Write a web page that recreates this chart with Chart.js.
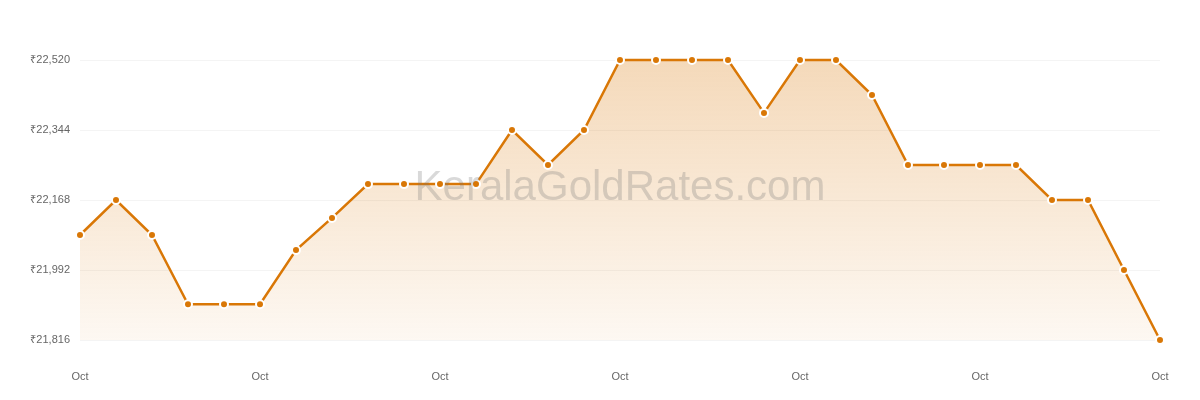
<!DOCTYPE html>
<html>
<head>
<meta charset="utf-8">
<script src="https://cdn.jsdelivr.net/npm/chart.js@4"></script>
<style>
  html, body { margin: 0; padding: 0; background: #fff; }
  #wrap { width: 1200px; height: 400px; }
</style>
</head>
<body>
<div id="wrap"><canvas id="myChart"></canvas></div>
<script>
// one point per day, all in October
const labels = ['Oct','Oct','Oct','Oct','Oct','Oct','Oct','Oct','Oct','Oct',
                'Oct','Oct','Oct','Oct','Oct','Oct','Oct','Oct','Oct','Oct',
                'Oct','Oct','Oct','Oct','Oct','Oct','Oct','Oct','Oct','Oct','Oct'];
const prices = [22080, 22168, 22080, 21906, 21906, 21906, 22042, 22123, 22208, 22208,
                22208, 22208, 22344, 22256, 22344, 22520, 22520, 22520, 22520, 22387,
                22520, 22520, 22432, 22256, 22256, 22256, 22256, 22168, 22168, 21992, 21816];
const yTicks = [21816, 21992, 22168, 22344, 22520];

const lineColor = '#d97706';

// watermark over the plot
const watermark = {
    id: 'watermark',
    afterDatasetsDraw(chart) {
        const ctx = chart.ctx;
        const area = chart.chartArea;
        ctx.save();
        ctx.font = '42px "Liberation Sans", Arial, sans-serif';
        ctx.fillStyle = 'rgba(120, 120, 120, 0.28)';
        ctx.textAlign = 'center';
        ctx.textBaseline = 'alphabetic';
        ctx.fillText('KeralaGoldRates.com', (area.left + area.right) / 2, 200);
        ctx.restore();
    }
};

const ctx = document.getElementById('myChart').getContext('2d');
const myChart = new Chart(ctx, {
    type: 'line',
    data: {
        labels: labels,
        datasets: [{
            data: prices,
            borderColor: lineColor,
            borderWidth: 2.5,
            tension: 0,
            fill: true,
            backgroundColor: function(context) {
                const area = context.chart.chartArea;
                if (!area) return 'rgba(217,119,6,0.15)';
                const g = context.chart.ctx.createLinearGradient(0, area.top, 0, area.bottom);
                g.addColorStop(0, 'rgba(217, 119, 6, 0.28)');
                g.addColorStop(1, 'rgba(217, 119, 6, 0.05)');
                return g;
            },
            pointRadius: 4,
            pointBackgroundColor: lineColor,
            pointBorderColor: '#ffffff',
            pointBorderWidth: 2,
            clip: 8
        }]
    },
    options: {
        responsive: true,
        maintainAspectRatio: false,
        animation: false,
        layout: { padding: { top: 60, right: 40, bottom: 17, left: 0 } },
        plugins: {
            legend: { display: false },
            tooltip: { enabled: false }
        },
        scales: {
            x: {
                afterFit: function(scale) { scale.height = 43; },
                grid: { display: false, drawTicks: false },
                border: { display: false },
                ticks: {
                    autoSkip: false,
                    maxRotation: 0,
                    padding: 30,
                    color: '#666',
                    font: { family: '"Liberation Sans", Arial, sans-serif', size: 11 },
                    callback: function(value, index) {
                        return index % 5 === 0 ? this.getLabelForValue(value) : '';
                    }
                }
            },
            y: {
                min: yTicks[0],
                max: yTicks[yTicks.length - 1],
                afterBuildTicks: function(scale) {
                    scale.ticks = yTicks.map(v => ({ value: v }));
                },
                afterFit: function(scale) { scale.width = 80; },
                grid: { color: '#f4f4f4', lineWidth: 1, drawTicks: false },
                border: { display: false },
                ticks: {
                    padding: 10,
                    color: '#666',
                    font: { family: '"Liberation Sans", Arial, sans-serif', size: 11 },
                    callback: function(value) {
                        return '₹' + value.toLocaleString('en-US');
                    }
                }
            }
        }
    },
    plugins: [watermark]
});
</script>
</body>
</html>
